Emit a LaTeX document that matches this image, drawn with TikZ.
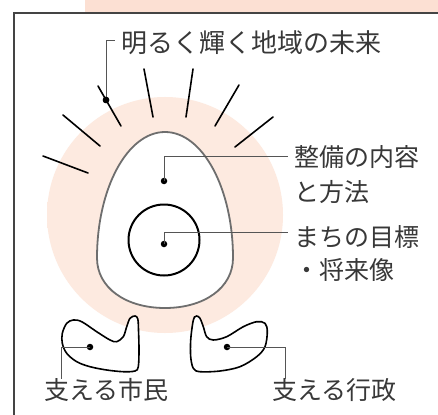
\documentclass[tikz,border=0pt]{standalone}
\usepackage{fontspec}
\newfontfamily\jpfont{Noto Sans CJK JP}
\definecolor{bandc}{HTML}{FCE0D3}
\definecolor{glowc}{HTML}{FDEAE0}
\definecolor{txtc}{HTML}{383838}
\definecolor{eggc}{HTML}{6E6E6E}
\definecolor{leadc}{HTML}{555555}
\definecolor{framec}{HTML}{444444}
\pgfdeclareradialshading{glowshade}{\pgfpoint{0bp}{0bp}}{color(0bp)=(glowc); color(43bp)=(glowc); color(50bp)=(white)}
\tikzset{
  ray/.style={line width=1.6pt, line cap=round, black},
  leader/.style={line width=0.9pt, leadc},
  dotnode/.style={circle, fill=black, inner sep=0pt, minimum size=6.5pt},
  lbl/.style={anchor=base west, inner sep=0pt, text=txtc, font=\jpfont\fontsize{25}{30}\selectfont},
  foot/.style={line width=1.6pt, black, fill=white},
}
\begin{document}
\begin{tikzpicture}[x=1pt,y=-1pt]
\useasboundingbox (0,0) rectangle (438,414);
\fill[white] (0,0) rectangle (438,414);
\begin{scope}
\clip (0,0) rectangle (438,414);
\fill[bandc] (85,0) rectangle (440,12);
\draw[framec, line width=1.2pt] (14,13) rectangle (460,440);
\end{scope}
% glow
\shade[shading=glowshade] (165,215) circle (118);
% rays
\draw[ray] (98,86) -- (121,126);
\draw[ray] (144,69) -- (153,117);
\draw[ray] (193,69) -- (186,117);
\draw[ray] (239,85) -- (215,126);
\draw[ray] (273,117) -- (235,147);
\draw[ray] (63,115) -- (100,146);
\draw[ray] (43,156) -- (88,173);
% egg
\draw[eggc, line width=1.8pt, fill=white] (97,258) arc[start angle=180, end angle=360, x radius=68, y radius=126]
  .. controls (233,288) and (204,308) .. (165,308)
  .. controls (126,308) and (97,288) .. (97,258) -- cycle;
\draw[black, line width=2pt] (164,240) circle (35.5);
% feet
\draw[foot] plot[smooth cycle, tension=0.55] coordinates {(62.3,333.3) (66.7,323.3) (73.3,320) (81.7,321.7) (96.7,331.7) (110,340) (116.7,341.7) (123.3,336.7) (126.7,326.7) (130,318.3) (135,316) (137.8,319) (138.5,330) (139,350) (138.3,366.7) (135,371) (123.3,371.7) (106.7,370) (90,366.7) (76.7,361.7) (66.7,353.3) (62.3,343.3)};
\draw[foot] plot[smooth cycle, tension=0.55] coordinates {(196.7,316) (200,318.3) (203.3,326.7) (206.7,336.7) (213.3,340) (226.7,336.7) (243.3,326.7) (256.7,321.7) (265,323.3) (267.3,331.7) (265,346.7) (256.7,356.7) (240,366.7) (220,371) (200,371.7) (193.3,368.3) (190.7,356.7) (190.7,340) (192.7,323.3) (194.5,317)};
% labels
\node[lbl, font=\jpfont\fontsize{26}{30}\selectfont] (t1) at (121,53) {明るく輝く地域の未来};
\node[lbl] (t2) at (294,166) {整備の内容};
\node[lbl] (t3) at (294,201) {と方法};
\node[lbl] (t4) at (294,246) {まちの目標};
\node[lbl] (t5) at (294,279) {・将来像};
\node[lbl] (t6) at (44,399.5) {支える市民};
\node[lbl] (t7) at (272,399.5) {支える行政};
% dots
\node[dotnode] (d1) at (106,100) {};
\node[dotnode] (d2) at (164,181) {};
\node[dotnode] (d3) at (164,244) {};
\node[dotnode] (d4) at (90,347) {};
\node[dotnode] (d5) at (227,347) {};
\coordinate (c4) at (61,379);
\coordinate (c5) at (285,379);
% leaders
\draw[leader] (d1.center) |- ([xshift=-6pt,yshift=3pt]t1.west);
\draw[leader] (d2.center) |- ([xshift=-6pt]t2.west);
\draw[leader] (d3.center) |- ([xshift=-6pt,yshift=4pt]t4.west);
\draw[leader] (d4.center) -| (c4);
\draw[leader] (d5.center) -| (c5);
\node[dotnode] at (d1) {};
\end{tikzpicture}
\end{document}
